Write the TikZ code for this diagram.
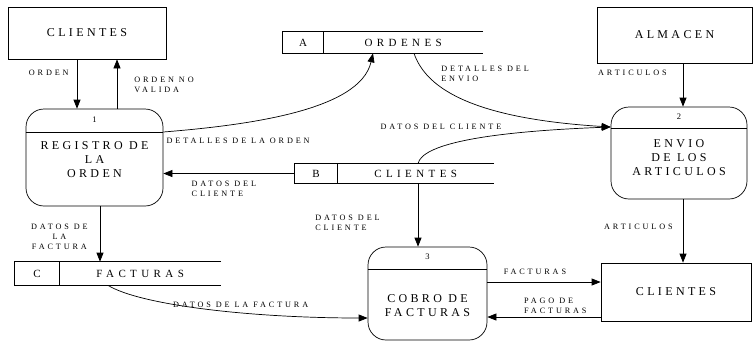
\documentclass[tikz,border=0pt]{standalone}
\usepackage{fontspec}
\setmainfont{Liberation Serif}
\newfontfamily\boxfam[LetterSpace=28]{Liberation Serif}
\newfontfamily\lblfam[LetterSpace=35]{Liberation Serif}
\newfontfamily\storefam[LetterSpace=40]{Liberation Serif}
\newcommand\boxfont{\boxfam\fontsize{12}{14}\selectfont}
\newcommand\lblfont{\lblfam\fontsize{8.2}{10}\selectfont}
\newcommand\storefont{\storefam\fontsize{11}{13}\selectfont}
\newcommand\numfont{\lblfam\fontsize{8.5}{9}\selectfont}
\usepackage{tikz}
\usetikzlibrary{arrows.meta, positioning, calc}

\begin{document}
\begin{tikzpicture}[
    x=1pt, y=-1pt,
    >={Triangle[length=9pt, width=7pt]},
    line width=0.7pt,
    ent/.style={draw, inner sep=0pt, font=\boxfont},
    proc/.style={draw, rounded corners=18pt, inner sep=0pt},
    ptext/.style={align=center, font=\boxfont, inner sep=0pt},
    pnum/.style={font=\numfont, inner sep=0pt},
    store/.style={inner sep=0pt, font=\storefont},
    lbl/.style={font=\lblfont, align=left, inner sep=0pt},
    flow/.style={->}
]
\useasboundingbox (0,0) rectangle (754,341);

% ===== EXTERNAL ENTITIES =====
\node[ent, minimum width=158, minimum height=52] (cli1) at (87,33) {CLIENTES};
\node[ent, minimum width=155, minimum height=56] (alm) at (674.5,35) {ALMACEN};
\node[ent, minimum width=150, minimum height=58] (cli2) at (676,292) {CLIENTES};

% ===== PROCESSES =====
\node[proc, minimum width=137, minimum height=97] (p1) at (94.5,157.5) {};
\draw (p1.west |- 0,132) -- (p1.east |- 0,132);
\node[pnum] (n1) at (p1.north |- 0,120) {1};
\node[ptext] (t1) at (p1.center |- 0,160) {REGISTRO DE\\LA\\ORDEN};

\node[proc, minimum width=136, minimum height=92] (p2) at (679,153) {};
\draw (p2.west |- 0,128) -- (p2.east |- 0,128);
\node[pnum] (n2) at (p2.north |- 0,117) {2};
\node[ptext] (t2) at (p2.center |- 0,158) {ENVIO\\DE LOS\\ARTICULOS};

\node[proc, minimum width=119, minimum height=93] (p3) at (427.5,293.5) {};
\draw (p3.west |- 0,269) -- (p3.east |- 0,269);
\node[pnum] (n3) at (p3.north |- 0,257) {3};
\node[ptext, text depth=0pt] (t3) at (p3.center |- 0,306) {COBRO DE\\FACTURAS};

% ===== DATA STORES =====
\node[store, minimum width=40, minimum height=21] (idA) at (303,42.5) {A};
\node[store, minimum width=159, minimum height=21, right=0pt of idA] (stA) {ORDENES};
\draw (stA.north east) -- (idA.north west) -- (idA.south west) -- (stA.south east);
\draw (idA.north east) -- (idA.south east);

\node[store, minimum width=42, minimum height=19] (idB) at (316,173.5) {B};
\node[store, minimum width=156, minimum height=19, right=0pt of idB] (stB) {CLIENTES};
\draw (stB.north east) -- (idB.north west) -- (idB.south west) -- (stB.south east);
\draw (idB.north east) -- (idB.south east);

\node[store, minimum width=44, minimum height=23] (idC) at (37,273.5) {C};
\node[store, minimum width=161, minimum height=23, right=0pt of idC] (stC) {FACTURAS};
\draw (stC.north east) -- (idC.north west) -- (idC.south west) -- (stC.south east);
\draw (idC.north east) -- (idC.south east);

% ===== FLOWS =====
\draw[flow] (cli1.south -| 77,0) -- node[lbl, pos=0.27, left=8pt] {ORDEN} (p1.north -| 77,0);
\draw[flow] (p1.north -| 117,0) -- node[lbl, pos=0.49, right=17pt] {ORDEN NO\\VALIDA} (cli1.south -| 117,0);

\draw[flow] (p1.east |- 0,132) node[lbl, below right=6pt and 3pt] {DETALLES DE LA ORDEN}
    .. controls (250,125) and (360,110) .. (stA.south -| 373,0);
\draw[flow] (stA.south -| 414,0) node[lbl, below right=12pt and 27pt] {DETALLES DEL\\ENVIO}
    .. controls (425,85) and (465,118) .. (p2.west |- 0,127);
\draw[flow] (stB.north -| 418,0) .. controls (422,145) and (480,132) ..
    node[lbl, pos=1, left=109pt] {DATOS DEL CLIENTE} (p2.west |- 0,127);

\draw[flow] (idB.west) -- (p1.east |- idB.west) node[lbl, below right=7pt and 28pt] {DATOS DEL\\CLIENTE};
\draw[flow] (stB.south -| 418,0) -- node[lbl, pos=0.63, left=38pt] {DATOS DEL\\CLIENTE} (p3.north -| 418,0);

\draw[flow] (p1.south -| 100,0) -- node[lbl, align=center, pos=0.55, left=12pt] {DATOS DE\\LA\\FACTURA} (stC.north -| 100,0);
\draw[flow] (stC.south -| 108,0) .. controls (140,305) and (250,318) ..
    node[lbl, pos=0.62, above=5pt] {DATOS DE LA FACTURA} (p3.west |- 0,318);

\draw[flow] (alm.south -| 683,0) -- node[lbl, pos=0.22, left=16pt] {ARTICULOS} (p2.north -| 683,0);
\draw[flow] (p2.south -| 683,0) -- node[lbl, pos=0.44, left=10pt] {ARTICULOS} (cli2.north -| 683,0);

\draw[flow] (p3.east |- 0,282) -- node[lbl, pos=0.42, above=7pt] {FACTURAS} (cli2.west |- 0,282);
\draw[flow] (cli2.west |- 0,317) -- node[lbl, pos=0.4, above=3pt] {PAGO DE\\FACTURAS} (p3.east |- 0,317);

\end{tikzpicture}
\end{document}
